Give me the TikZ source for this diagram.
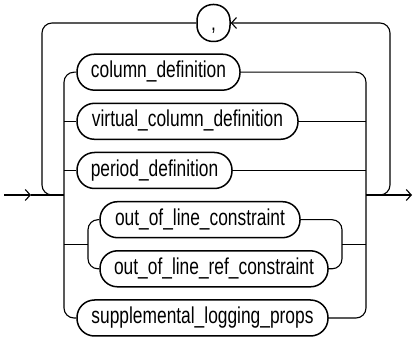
\documentclass[tikz,border=0pt]{standalone}
\usepackage{fontspec}
\setmainfont[FakeStretch=0.755]{Liberation Sans}
\usetikzlibrary{arrows.meta}
\begin{document}
\begin{tikzpicture}[x=1pt,y=-1pt,
  conn/.style={line width=1.1pt},
  rc/.style={conn,rounded corners=10pt},
  tip/.style={-{Straight Barb[length=5pt,width=11pt,line width=1.1pt]}},
  term/.style={draw,line width=1.5pt,rectangle,rounded corners=17.5pt,minimum height=36pt,inner sep=0pt,
    text height=16.5pt,text depth=5.3pt,font=\fontsize{23}{23}\selectfont},
]
\useasboundingbox (0,0) rectangle (413,339);
\node[term,minimum width=33pt,minimum height=37pt,rounded corners=16pt,text height=16.5pt,text depth=1.5pt] (comma) at (213.5,23) {,};
\node[term,minimum width=163pt] (col) at (158.5,72.2) {column\_definition};
\node[term,minimum width=221pt] (virt) at (187.5,121.3) {virtual\_column\_definition};
\node[term,minimum width=155pt] (per) at (154.5,170.5) {period\_definition};
\node[term,minimum width=200pt] (ool) at (200,219.7) {out\_of\_line\_constraint};
\node[term,minimum width=228pt] (oolr) at (214,268.8) {out\_of\_line\_ref\_constraint};
\node[term,minimum width=251pt] (supp) at (202.5,318) {supplemental\_logging\_props};
% junction coordinates
\coordinate (start) at (4,195);
\coordinate (mid) at (31,195);
\coordinate (jl) at (64,195);
\coordinate (jr) at (366,195);
\coordinate (stop) at (412,195);
\coordinate (ll) at (42,195);
\coordinate (lj) at (56,195);
\coordinate (rr) at (390,195);
\coordinate (rj) at (376,195);
\coordinate (gl) at (88,244.3);
\coordinate (gr) at (342,244.3);
% entry and exit
\draw[conn,tip] (start) -- (mid);
\draw[conn] (mid) -- (jl);
\draw[conn,tip] (jr) -- (stop);
% repetition loop
\draw[rc] (lj) -- (ll) |- (comma.west);
\draw[rc,tip] (rj) -- (rr) |- (comma.east);
% left branch
\draw[rc] (col.west) -| (jl) |- (supp.west);
\draw[conn] (64,121.3) -- (virt.west);
\draw[conn] (64,170.5) -- (per.west);
\draw[conn] (64,244.3) -- (gl);
\draw[rc] (ool.west) -| (gl) |- (oolr.west);
% right branch
\draw[rc] (col.east) -| (jr) |- (supp.east);
\draw[conn] (virt.east) -- (366,121.3);
\draw[conn] (per.east) -- (366,170.5);
\draw[conn] (gr) -- (366,244.3);
\draw[rc] (ool.east) -| (gr) |- (oolr.east);
\end{tikzpicture}
\end{document}
